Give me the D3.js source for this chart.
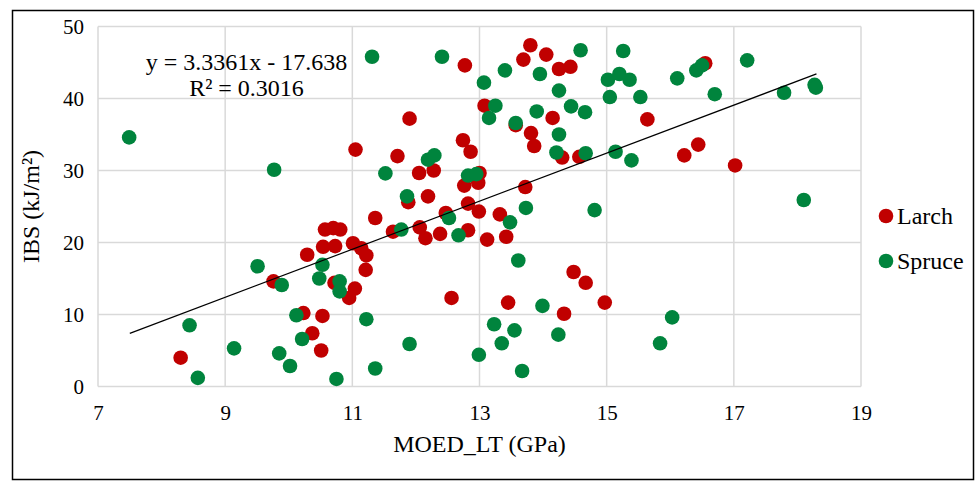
<!DOCTYPE html>
<html>
<head>
<meta charset="utf-8">
<script src="https://cdn.jsdelivr.net/npm/d3@7"></script>
<style>
  body { margin: 0; background: #fff; }
  text { font-family: "Liberation Serif", "Times New Roman", serif; fill: #000; }
</style>
</head>
<body>
<div id="chart"></div>
<script>
// MOED_LT (GPa) vs IBS (kJ/m2)
const larch = [
  [8.30, 4.0], [9.76, 14.6], [10.29, 18.3], [10.23, 10.2], [10.53, 9.8], [10.37, 7.4],
  [10.51, 5.0], [10.57, 21.8], [10.70, 22.0], [10.81, 21.8], [10.54, 19.4], [10.73, 19.5],
  [11.01, 19.9], [11.14, 19.2], [11.22, 18.2], [11.21, 16.2], [10.72, 14.4], [11.04, 13.6],
  [10.95, 12.3], [11.05, 32.9], [11.36, 23.4], [11.64, 21.5], [12.06, 22.1], [12.15, 20.6],
  [11.71, 32.0], [11.90, 37.2], [12.05, 29.65], [12.28, 30.0], [11.88, 25.6], [12.19, 26.4],
  [12.47, 24.1], [12.38, 21.2], [12.82, 21.7], [12.82, 25.4], [12.99, 24.3], [13.32, 23.9],
  [13.12, 20.4], [13.42, 20.8], [12.56, 12.3], [12.74, 34.2], [12.86, 32.6], [13.00, 29.65],
  [12.76, 27.9], [12.98, 28.3], [12.77, 44.6], [13.08, 39.0], [13.72, 27.7], [13.80, 47.4],
  [13.69, 45.4], [14.05, 46.1], [14.25, 44.1], [14.43, 44.4], [14.15, 37.3], [13.57, 36.3],
  [13.81, 35.2], [13.86, 33.4], [14.30, 31.8], [14.57, 31.9], [13.45, 11.65], [14.48, 15.9],
  [14.67, 14.4], [14.33, 10.1], [14.97, 11.65], [15.64, 37.1], [16.44, 33.6], [16.22, 32.1],
  [17.02, 30.7], [16.55, 44.9]
];

const spruce = [
  [7.49, 34.6], [9.77, 30.1], [8.44, 8.5], [8.57, 1.2], [9.14, 5.3], [9.85, 4.6],
  [10.02, 2.85], [10.12, 9.9], [10.21, 6.6], [10.75, 1.05], [9.51, 16.7], [9.89, 14.1],
  [10.53, 16.9], [10.48, 15.0], [10.80, 14.6], [10.80, 13.2], [11.31, 45.8], [12.41, 45.8],
  [13.40, 43.9], [13.95, 43.4], [13.07, 42.2], [14.25, 41.1], [13.25, 39.0], [13.15, 37.3],
  [13.90, 38.2], [14.44, 38.9], [14.66, 38.1], [13.57, 36.6], [14.25, 35.0], [14.21, 32.5],
  [14.67, 32.4], [11.52, 29.6], [12.19, 31.5], [12.29, 32.1], [12.82, 29.3], [12.95, 29.5],
  [11.86, 26.4], [12.52, 23.4], [13.48, 22.8], [13.73, 24.8], [14.81, 24.5], [11.77, 21.8],
  [12.67, 21.0], [11.22, 9.35], [11.90, 5.9], [11.36, 2.5], [13.61, 17.5], [13.99, 11.2],
  [13.23, 8.65], [13.55, 7.8], [13.35, 6.0], [14.24, 7.2], [12.99, 4.4], [13.67, 2.15],
  [14.59, 46.7], [15.26, 46.6], [15.02, 42.6], [15.20, 43.4], [15.36, 42.6], [15.05, 40.2],
  [15.53, 40.2], [16.11, 42.8], [16.41, 43.9], [16.50, 44.6], [17.21, 45.3], [16.70, 40.6],
  [17.79, 40.8], [18.27, 41.9], [18.29, 41.5], [15.14, 32.6], [15.39, 31.4], [18.10, 25.9],
  [16.03, 9.6], [15.84, 6.0]
];

const xTicks = [7, 9, 11, 13, 15, 17, 19];
const yTicks = [0, 10, 20, 30, 40, 50];
const trend = { slope: 3.3361, intercept: -17.638, from: 7.5, to: 18.3 };
const seriesNames = ['Larch', 'Spruce'];
const seriesColors = ['#C00000', '#00843D'];

const width = 976, height = 484;
const plotLeft = 98, plotRight = 861, plotTop = 26.5, plotBottom = 386.5;

let svg = d3.select('#chart').append('svg')
  .attr('width', width)
  .attr('height', height);

svg.append('rect')
  .attr('x', 12.5).attr('y', 10.5)
  .attr('width', 961).attr('height', 469)
  .attr('fill', '#fff')
  .attr('stroke', '#000')
  .attr('stroke-width', 1.5);

let x = d3.scaleLinear().domain([7, 19]).range([plotLeft, plotRight]);
let y = d3.scaleLinear().domain([0, 50]).range([plotBottom, plotTop]);

// gridlines
let grid = svg.append('g').attr('class', 'grid');
grid.selectAll('.vx')
  .data(xTicks)
  .enter().append('line')
  .attr('x1', (d) => x(d)).attr('x2', (d) => x(d))
  .attr('y1', plotTop).attr('y2', plotBottom)
  .attr('stroke', '#d9d9d9').attr('stroke-width', 1.5);
grid.selectAll('.hy')
  .data(yTicks)
  .enter().append('line')
  .attr('x1', plotLeft).attr('x2', plotRight)
  .attr('y1', (d) => y(d)).attr('y2', (d) => y(d))
  .attr('stroke', '#d9d9d9').attr('stroke-width', 1.5);

// axes (labels only)
let xAxis = svg.append('g')
  .attr('transform', `translate(0, ${plotBottom})`)
  .call(d3.axisBottom(x).tickValues(xTicks).tickSize(0).tickPadding(19).tickFormat(d3.format('d')));
let yAxis = svg.append('g')
  .attr('transform', `translate(${plotLeft}, 0)`)
  .call(d3.axisLeft(y).tickValues(yTicks).tickSize(0).tickPadding(14).tickFormat(d3.format('d')));
[xAxis, yAxis].forEach((a) => {
  a.select('.domain').remove();
  a.selectAll('text')
    .style('font-family', '"Liberation Serif", "Times New Roman", serif')
    .style('font-size', '21px')
    .attr('fill', '#000');
});

svg.append('text')
  .attr('x', (plotLeft + plotRight) / 2)
  .attr('y', 452)
  .attr('text-anchor', 'middle')
  .style('font-size', '24px')
  .text('MOED_LT (GPa)');

svg.append('text')
  .attr('transform', `translate(39, ${(plotTop + plotBottom) / 2}) rotate(-90)`)
  .attr('text-anchor', 'middle')
  .style('font-size', '24px')
  .text('IBS (kJ/m²)');

// points: larch first, spruce drawn over it
let series = [larch, spruce];
series.forEach((pts, i) => {
  svg.append('g')
    .selectAll('circle')
    .data(pts)
    .enter().append('circle')
    .attr('cx', (d) => x(d[0]))
    .attr('cy', (d) => y(d[1]))
    .attr('r', 7.3)
    .attr('fill', seriesColors[i]);
});

// linear trendline
svg.append('line')
  .attr('x1', x(trend.from))
  .attr('y1', y(trend.slope * trend.from + trend.intercept))
  .attr('x2', x(trend.to))
  .attr('y2', y(trend.slope * trend.to + trend.intercept))
  .attr('stroke', '#000')
  .attr('stroke-width', 1.2);

svg.append('text')
  .attr('x', 246.5).attr('y', 69.5)
  .attr('text-anchor', 'middle')
  .style('font-size', '24px')
  .text('y = 3.3361x - 17.638');
svg.append('text')
  .attr('x', 246.5).attr('y', 96)
  .attr('text-anchor', 'middle')
  .style('font-size', '24px')
  .text('R² = 0.3016');

// legend
let legend = svg.append('g')
  .selectAll('.leg')
  .data(seriesNames)
  .enter().append('g')
  .attr('transform', (d, i) => `translate(886, ${216 + i * 45})`);
legend.append('circle')
  .attr('r', 7.3)
  .attr('fill', (d, i) => seriesColors[i]);
legend.append('text')
  .attr('x', 11)
  .attr('y', 8)
  .style('font-size', '24px')
  .text((d) => d);
</script>
</body>
</html>
